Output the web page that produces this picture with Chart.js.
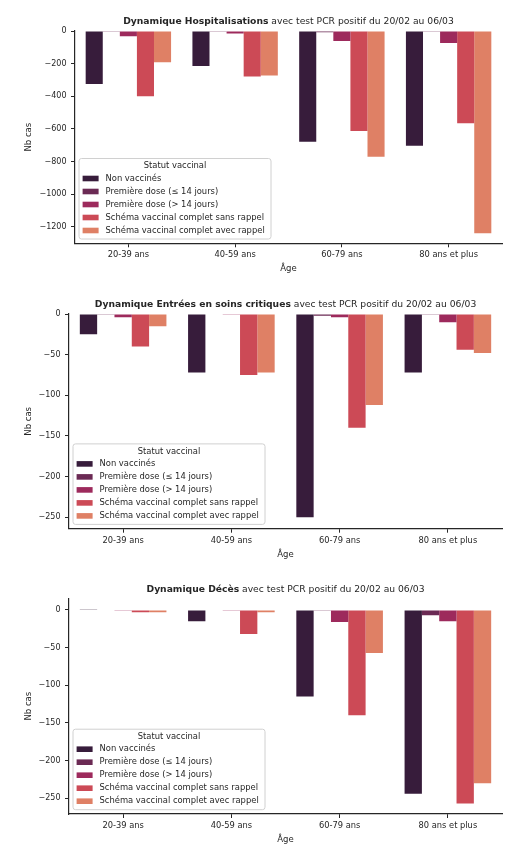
<!DOCTYPE html>
<html>
<head>
<meta charset="utf-8">
<script src="https://cdn.jsdelivr.net/npm/chart.js@4"></script>
<style>
  body { margin: 0; background: #fff; }
  .box { position: relative; width: 520px; }
</style>
</head>
<body>
<div class="box" style="height:285px"><canvas id="hosp"></canvas></div>
<div class="box" style="height:285px"><canvas id="crit"></canvas></div>
<div class="box" style="height:286px"><canvas id="deces"></canvas></div>
<script>
const ages = ['20-39 ans', '40-59 ans', '60-79 ans', '80 ans et plus'];
const statuts = [
  'Non vaccinés',
  'Première dose (≤ 14 jours)',
  'Première dose (> 14 jours)',
  'Schéma vaccinal complet sans rappel',
  'Schéma vaccinal complet avec rappel'
];

// Hospitalisations
const hospNonVacc = [-325, -214, -678, -702];
const hospDose1Court = [-2, -1, -8, -2];
const hospDose1Long = [-32, -16, -61, -73];
const hospSansRappel = [-400, -278, -612, -565];
const hospAvecRappel = [-192, -273, -770, -1238];
const hospTicks = [0, -200, -400, -600, -800, -1000, -1200];

// Entrées en soins critiques
const critNonVacc = [-25, -72, -250, -72];
const critDose1Court = [-1, 0, -2, -1];
const critDose1Long = [-4, -1, -4, -10];
const critSansRappel = [-40, -75, -140, -44];
const critAvecRappel = [-15, -72, -112, -48];
const critTicks = [0, -50, -100, -150, -200, -250];

// Décès
const decesNonVacc = [1, -15, -115, -244];
const decesDose1Court = [0, 0, -1, -7];
const decesDose1Long = [-1, -1, -16, -15];
const decesSansRappel = [-3, -32, -140, -257];
const decesAvecRappel = [-3, -3, -57, -230];
const decesTicks = [0, -50, -100, -150, -200, -250];

const colors = ['#371c3b', '#6b2a54', '#9d2a5c', '#cc4a56', '#df8065'];
const ink = '#262626';

Chart.defaults.font.family = '"DejaVu Sans", sans-serif';
Chart.defaults.font.size = 8;
Chart.defaults.color = ink;

// title with a bold first part
const mixedTitle = {
  id: 'mixedTitle',
  afterDraw(chart, args, opts) {
    const { ctx, chartArea: a } = chart;
    ctx.save();
    const fb = 'bold 9.2px "DejaVu Sans"';
    const fn = '9.2px "DejaVu Sans"';
    ctx.font = fb;
    const wb = ctx.measureText(opts.bold).width;
    ctx.font = fn;
    const wr = ctx.measureText(opts.rest).width;
    let x = (a.left + a.right) / 2 - (wb + wr) / 2;
    const y = a.top - 9;
    ctx.textBaseline = 'middle';
    ctx.textAlign = 'left';
    ctx.fillStyle = ink;
    ctx.font = fb;
    ctx.fillText(opts.bold, x, y);
    ctx.font = fn;
    ctx.fillText(opts.rest, x + wb, y);
    ctx.restore();
  }
};

// legend box in the lower left of the plot
const statutLegend = {
  id: 'statutLegend',
  afterDatasetsDraw(chart) {
    const { ctx, chartArea: a } = chart;
    const w = 192, h = 80.5;
    const x = a.left + 4, y = a.bottom - 4.3 - h;
    ctx.save();
    ctx.beginPath();
    if (ctx.roundRect) ctx.roundRect(x, y, w, h, 2.5); else ctx.rect(x, y, w, h);
    ctx.fillStyle = 'rgba(255,255,255,0.8)';
    ctx.fill();
    ctx.strokeStyle = '#d0d0d0';
    ctx.lineWidth = 1;
    ctx.stroke();
    ctx.font = '8.4px "DejaVu Sans"';
    ctx.textBaseline = 'middle';
    ctx.textAlign = 'center';
    ctx.fillStyle = ink;
    ctx.fillText('Statut vaccinal', x + w / 2, y + 7.5);
    ctx.textAlign = 'left';
    chart.data.datasets.forEach((ds, i) => {
      const cy = y + 20 + i * 13;
      ctx.fillStyle = ds.backgroundColor;
      ctx.fillRect(x + 3.6, cy - 2.8, 16, 5.6);
      ctx.fillStyle = ink;
      ctx.fillText(ds.label, x + 26.5, cy);
    });
    ctx.restore();
  }
};

function makeChart(id, bold, series, yMin, yMax, yTicks, lay) {
  return new Chart(document.getElementById(id), {
    type: 'bar',
    data: {
      labels: ages,
      datasets: series.map((d, i) => ({
        label: statuts[i],
        data: d,
        backgroundColor: colors[i],
        borderWidth: 0,
        categoryPercentage: 0.8,
        barPercentage: 1
      }))
    },
    options: {
      responsive: true,
      maintainAspectRatio: false,
      animation: false,
      layout: { padding: { top: lay.top, right: 18, left: 0, bottom: 0 } },
      plugins: {
        legend: { display: false },
        tooltip: { enabled: false },
        mixedTitle: { bold: bold, rest: ' avec test PCR positif du 20/02 au 06/03' }
      },
      scales: {
        x: {
          grid: { display: true, offset: false, drawOnChartArea: false, drawTicks: true, tickLength: 4, tickColor: ink, tickWidth: 1 },
          border: { display: true, color: ink, width: 1.2 },
          ticks: { padding: 3, color: ink, font: { size: 8.3 } },
          title: { display: true, text: 'Âge', color: ink, font: { size: 8.5 }, padding: { top: 0, bottom: lay.xTitlePad } },
          afterFit: s => { s.height = lay.h - lay.bottom; }
        },
        y: {
          min: yMin,
          max: yMax,
          grid: { display: true, drawOnChartArea: false, drawTicks: true, tickLength: 4, tickColor: ink, tickWidth: 1 },
          border: { display: true, color: ink, width: 1.2 },
          ticks: { padding: 4.5, color: ink, callback: v => String(v).replace('-', '\u2212') },
          title: { display: true, text: 'Nb cas', color: ink, font: { size: 8.5 }, padding: { top: 24, bottom: 0 } },
          afterBuildTicks: s => { s.ticks = yTicks.map(v => ({ value: v })); },
          afterFit: s => { s.width = lay.left; }
        }
      }
    },
    plugins: [mixedTitle, statutLegend]
  });
}

makeChart('hosp', 'Dynamique Hospitalisations',
  [hospNonVacc, hospDose1Court, hospDose1Long, hospSansRappel, hospAvecRappel],
  -1300, 0, hospTicks,
  { h: 285, top: 31, bottom: 243.3, left: 75, xTitlePad: 11.5 });

makeChart('crit', 'Dynamique Entrées en soins critiques',
  [critNonVacc, critDose1Court, critDose1Long, critSansRappel, critAvecRappel],
  -264, 0, critTicks,
  { h: 285, top: 29, bottom: 243.7, left: 69, xTitlePad: 10.2 });

makeChart('deces', 'Dynamique Décès',
  [decesNonVacc, decesDose1Court, decesDose1Long, decesSansRappel, decesAvecRappel],
  -271, 15.5, decesTicks,
  { h: 286, top: 28.3, bottom: 244, left: 69, xTitlePad: 11.5 });
</script>
</body>
</html>
